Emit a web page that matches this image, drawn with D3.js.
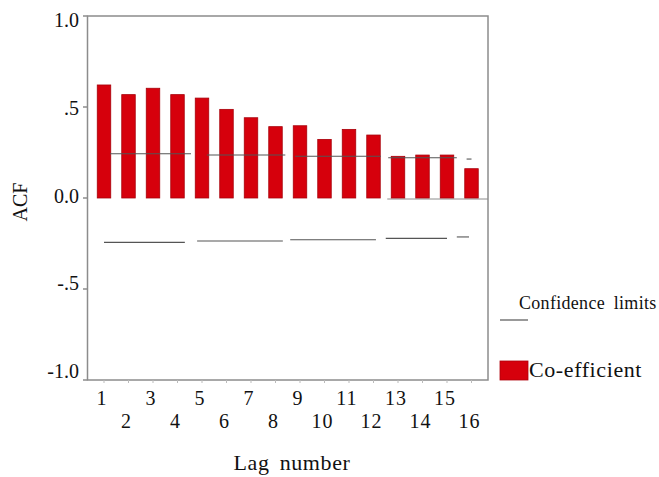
<!DOCTYPE html>
<html>
<head>
<meta charset="utf-8">
<script src="https://cdn.jsdelivr.net/npm/d3@7"></script>
<style>
  html, body { margin: 0; padding: 0; background: #fff; }
  svg { display: block; }
</style>
</head>
<body>
<svg id="chart" width="659" height="477"></svg>
<script>
// ---- data ----
const lags = [1, 2, 3, 4, 5, 6, 7, 8, 9, 10, 11, 12, 13, 14, 15, 16];
const acf = [0.621, 0.568, 0.603, 0.568, 0.549, 0.487, 0.441, 0.392, 0.397, 0.322, 0.377, 0.346, 0.229, 0.236, 0.236, 0.161];
const yTicks = [1.0, 0.5, 0.0, -0.5, -1.0];
const yTickLabels = ["1.0", ".5", "0.0", "-.5", "-1.0"];
// confidence limit segments (start lag, end lag, value)
const upperStart = [1.25, 5.2, 8.8, 12.6, 15.8];
const upperEnd   = [4.55, 8.4, 12.3, 15.4, 16.0];
const upperVal   = [0.243, 0.236, 0.229, 0.221, 0.214];
const lowerStart = [1.0, 4.8, 8.6, 12.5, 15.4];
const lowerEnd   = [4.3, 8.3, 12.1, 15.0, 15.9];
const lowerVal   = [-0.244, -0.236, -0.229, -0.222, -0.214];
const xLabel = "Lag number";
const yLabel = "ACF";
const legendLabels = ["Confidence limits", "Co-efficient"];

(function () {
// ---- layout ----
const FONT = "'Liberation Serif', 'Times New Roman', 'DejaVu Serif', serif";
const svg = d3.select("#chart");
const pLeft = 87.5, pRight = 488, pTop = 16, pBottom = 380;
const x = d3.scaleLinear().domain([1, 16]).range([104, 471.5]);
const y = d3.scaleLinear().domain([-1, 1]).range([pBottom, pTop]);
const barW = 13.5;
const axisColor = "#8c8c8c";
const red = "#d6000c";

function txt(sel) {
  return sel.attr("font-family", FONT).attr("fill", "#111");
}

// frame
svg.append("rect")
  .attr("x", pLeft).attr("y", pTop)
  .attr("width", pRight - pLeft).attr("height", pBottom - pTop)
  .attr("fill", "none").attr("stroke", axisColor).attr("stroke-width", 1.5);

// y ticks
svg.selectAll(".ytick").data(yTicks).enter().append("line")
  .attr("x1", 83).attr("x2", pLeft)
  .attr("y1", d => y(d)).attr("y2", d => y(d))
  .attr("stroke", axisColor).attr("stroke-width", 1.5);

txt(svg.selectAll(".ylab").data(yTicks).enter().append("text"))
  .attr("x", 79)
  .attr("y", d => y(d) - 2.5 + 6.5 * d)
  .attr("dy", "0.35em")
  .attr("text-anchor", "end")
  .attr("font-size", 20)
  .text((d, i) => yTickLabels[i]);

// x ticks
svg.selectAll(".xtick").data(lags).enter().append("line")
  .attr("x1", d => x(d)).attr("x2", d => x(d))
  .attr("y1", pBottom).attr("y2", pBottom + 3)
  .attr("stroke", "#bbb").attr("stroke-width", 1);

txt(svg.selectAll(".xlab").data(lags).enter().append("text"))
  .attr("x", d => x(d) - 2)
  .attr("y", d => d % 2 === 1 ? 405 : 428)
  .attr("text-anchor", "middle")
  .attr("font-size", 20)
  .attr("letter-spacing", 1)
  .text(d => d);

// zero line (right part)
svg.append("line")
  .attr("x1", x(13) - barW / 2 - 4).attr("x2", pRight)
  .attr("y1", y(0) + 1).attr("y2", y(0) + 1)
  .attr("stroke", axisColor).attr("stroke-width", 1);

// bars
svg.selectAll(".bar").data(lags).enter().append("rect")
  .attr("x", d => x(d) - barW / 2)
  .attr("width", barW)
  .attr("y", (d, i) => y(acf[i]))
  .attr("height", (d, i) => y(0) - y(acf[i]))
  .attr("fill", red)
  .attr("stroke", "#a8000a").attr("stroke-width", 0.8);

// confidence limits
const segs = upperStart.map((s, i) => ({ s, e: upperEnd[i], v: upperVal[i] }))
  .concat(lowerStart.map((s, i) => ({ s, e: lowerEnd[i], v: lowerVal[i] })));
svg.selectAll(".conf").data(segs).enter().append("line")
  .attr("x1", d => x(d.s)).attr("x2", d => x(d.e))
  .attr("y1", d => y(d.v)).attr("y2", d => y(d.v))
  .attr("stroke", "#555").attr("stroke-width", 1.1);

// axis titles
txt(svg.append("text"))
  .attr("transform", "translate(27,202) rotate(-90)")
  .attr("text-anchor", "middle")
  .attr("font-size", 20)
  .text(yLabel);

txt(svg.append("text"))
  .attr("x", 292).attr("y", 470)
  .attr("text-anchor", "middle")
  .attr("font-size", 22)
  .attr("word-spacing", 4)
  .attr("letter-spacing", 0.6)
  .text(xLabel);

// legend
txt(svg.append("text"))
  .attr("x", 519).attr("y", 309)
  .attr("font-size", 18)
  .attr("word-spacing", 4)
  .attr("letter-spacing", 0.3)
  .text(legendLabels[0]);
svg.append("line")
  .attr("x1", 500).attr("x2", 528)
  .attr("y1", 320).attr("y2", 320)
  .attr("stroke", "#777").attr("stroke-width", 1.5);

svg.append("rect")
  .attr("x", 500).attr("y", 361)
  .attr("width", 28).attr("height", 19)
  .attr("fill", red).attr("stroke", "#b0000a").attr("stroke-width", 0.8);
txt(svg.append("text"))
  .attr("x", 529).attr("y", 377)
  .attr("font-size", 22)
  .attr("letter-spacing", 0.6)
  .text(legendLabels[1]);
})();
</script>
</body>
</html>
